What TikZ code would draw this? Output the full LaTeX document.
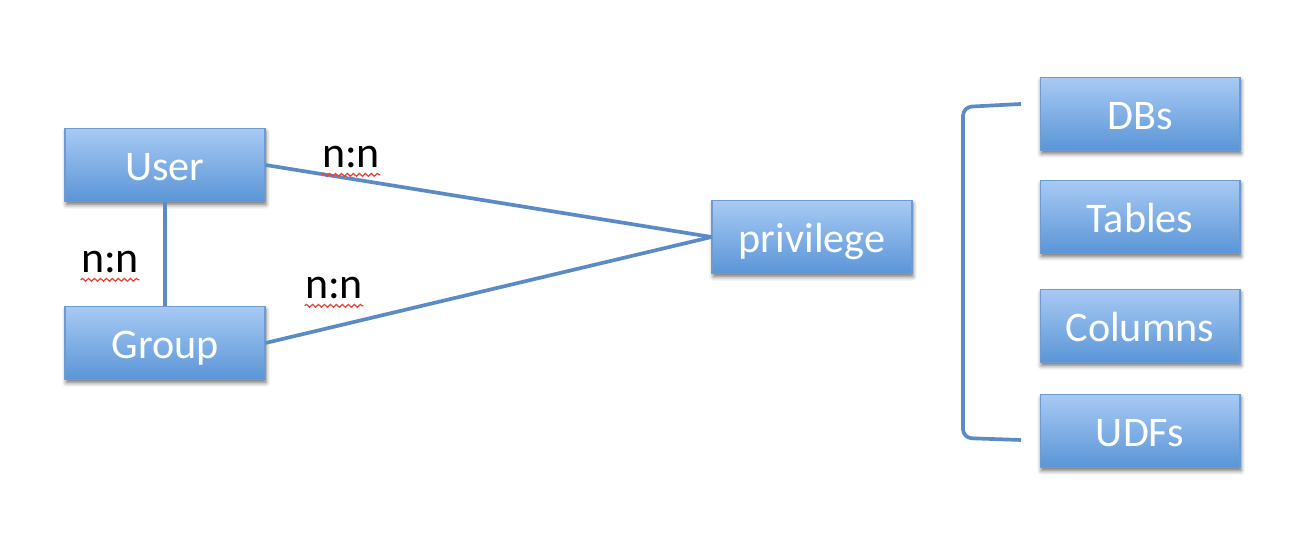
\documentclass[tikz,border=0pt]{standalone}
\usepackage{fontspec}
\setmainfont{Carlito}
\usetikzlibrary{positioning,shadows.blur,decorations.pathmorphing}
\definecolor{privTop}{HTML}{A8CAF4}
\definecolor{privBot}{HTML}{5A95D7}
\definecolor{privEdge}{HTML}{6B9BD0}
\definecolor{privLine}{HTML}{5B8BC6}
\definecolor{privSquig}{HTML}{E8413A}
\tikzset{
  ent/.style={draw=privEdge, line width=0.6pt, top color=privTop, bottom color=privBot,
              minimum width=4cm, minimum height=1.47cm, inner sep=0pt, text=white,
              font=\fontsize{24}{28}\selectfont, text height=24pt, text depth=6pt,
              blur shadow={shadow xshift=0.6pt, shadow yshift=-1.8pt,
                           shadow blur radius=2.2pt, shadow opacity=55}},
  card/.style={inner sep=0pt, anchor=base, font=\fontsize{25}{30}\selectfont},
  link/.style={draw=privLine, line width=2.1pt},
  squig/.style={draw=privSquig, line width=0.7pt, decorate,
                decoration={snake, amplitude=0.8pt, segment length=3.4pt}},
}

\begin{document}
\begin{tikzpicture}[x=0.02cm,y=-0.02cm]
  \useasboundingbox (0,0) rectangle (1296,546);
  % entities
  \node[ent] (user) at (165,165){User};
  \node[ent] (group) at (165,343){Group};
  \node[ent] (priv) at (812,237){privilege};
  % objects
  \node[ent] (dbs) at (1140,114){DBs};
  \node[ent] (tables) at (1140,217){Tables};
  \node[ent] (cols) at (1140,326){Columns};
  \node[ent] (udfs) at (1140,431){UDFs};
  % links
  \draw[link] (user.south) -- (group.north);
  \draw[link] (user.east) -- (priv.west);
  \draw[link] (group.east) -- (priv.west);
  % bracket
  \coordinate (brtop) at (1021,104);
  \coordinate (brbot) at (1021,440);
  \draw[link, rounded corners=5pt] (brtop) -- (963,107) -- (963,438) -- (brbot);
  % cardinalities
  \node[card] (nu) at (351,168){n:n};
  \node[card] (ng) at (334,299){n:n};
  \node[card] (nl) at (110,273){n:n};
  \foreach \l in {nu,ng,nl}
    \draw[squig] ([yshift=-3.5pt]\l.south west) -- ([yshift=-3.5pt]\l.south east);
\end{tikzpicture}
\end{document}
